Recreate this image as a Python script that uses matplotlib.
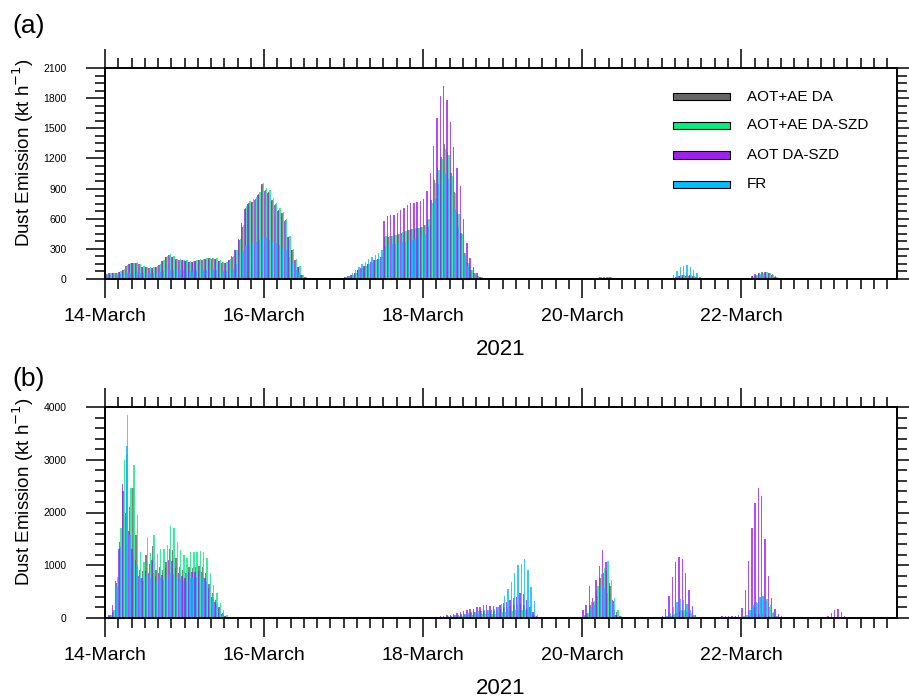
import numpy as np
import matplotlib
matplotlib.use("Agg")
import matplotlib.pyplot as plt
from matplotlib.patches import Rectangle
from matplotlib.ticker import MultipleLocator

plt.rcParams['font.family'] = ['Liberation Sans', 'DejaVu Sans']

# hourly dust emission, 14-March 00 UTC -> 23-March 22 UTC (kt/h)
n_hours = 239
day_ticks = [0, 48, 96, 144, 192]
day_labels = ['14-March', '16-March', '18-March', '20-March', '22-March']
names = ['AOT+AE DA', 'AOT+AE DA-SZD', 'AOT DA-SZD', 'FR']
colors = ['#666666', '#00F080', '#A020F0', '#00BFFF']

# each series: list of (first hour, values); hours not listed are 0
# ---- panel (a)
a_da = [
    (0, [50, 57, 57, 57, 73, 90, 130, 150, 157, 163,
         148, 123, 117, 113, 113, 123, 143, 183, 222, 238,
         222, 196, 190, 190, 180, 173, 173, 180, 190, 190,
         200, 206, 206, 200, 180, 166, 163, 190, 222, 282,
         388, 521, 703, 753, 770, 793, 846, 946, 886, 869,
         786, 743, 687, 654, 587, 421, 288, 189, 123, 40,
         15, 12, 10, 10, 10, 10, 10, 10, 10, 10,
         10, 12, 15, 25, 40, 57, 90, 113, 130, 150,
         173, 190, 203, 216, 421, 421, 428, 438, 448, 461,
         471, 488, 494, 501, 504, 514, 534, 587, 786, 985,
         1101, 1217, 1343, 1267, 1051, 869, 654, 454, 255, 156,
         90, 57, 30, 17]),
    (147, [8, 12, 15, 17, 17, 15, 12, 10, 6]),
    (171, [10, 20, 30, 40, 40, 35, 25, 15, 5]),
    (194, [10, 25, 40, 55, 65, 73, 62, 45, 25, 10]),
]
a_szd = [
    (0, [52, 58, 60, 60, 76, 95, 135, 155, 162, 168,
         152, 128, 120, 117, 117, 127, 148, 190, 230, 245,
         228, 200, 195, 193, 185, 178, 178, 185, 195, 195,
         205, 212, 212, 205, 185, 170, 168, 195, 230, 290,
         400, 540, 730, 780, 800, 820, 870, 960, 910, 890,
         810, 760, 705, 670, 600, 430, 295, 195, 128, 42,
         15, 12, 10, 10, 10, 10, 10, 10, 10, 10,
         10, 12, 15, 25, 40, 57, 88, 110, 128, 148,
         170, 188, 200, 214, 425, 425, 430, 440, 452, 465,
         475, 490, 498, 505, 508, 518, 540, 600, 760, 960,
         1080, 1190, 1290, 1230, 1030, 860, 650, 450, 260, 160,
         92, 58, 30, 15]),
    (147, [8, 12, 15, 16, 16, 15, 12, 10, 6]),
    (171, [12, 25, 35, 42, 44, 40, 30, 18, 6]),
    (194, [8, 22, 38, 52, 62, 68, 58, 42, 22, 8]),
]
a_aot = [
    (0, [48, 55, 55, 55, 70, 88, 128, 148, 155, 160,
         145, 120, 115, 110, 110, 120, 140, 180, 218, 235,
         218, 192, 186, 186, 176, 170, 170, 176, 186, 186,
         196, 202, 202, 196, 176, 162, 160, 190, 225, 290,
         400, 560, 700, 750, 765, 790, 840, 940, 880, 860,
         780, 735, 680, 650, 580, 420, 285, 185, 120, 38,
         14, 12, 10, 10, 10, 10, 10, 10, 10, 10,
         10, 12, 15, 25, 40, 57, 90, 113, 130, 150,
         173, 190, 203, 216, 573, 627, 633, 633, 653, 687,
         707, 736, 753, 760, 767, 776, 793, 879, 1058, 1323,
         1600, 1820, 1925, 1785, 1565, 1315, 1105, 925, 600, 355,
         206, 122, 60, 20]),
    (147, [6, 10, 12, 14, 14, 12, 10, 8, 5]),
    (171, [8, 15, 25, 32, 34, 30, 22, 12, 4]),
    (194, [12, 28, 45, 58, 68, 70, 60, 42, 22, 8]),
]
a_fr = [
    (0, [40, 40, 40, 40, 45, 55, 60, 62, 65, 65,
         62, 58, 55, 55, 55, 60, 68, 80, 88, 92,
         90, 88, 86, 86, 84, 82, 82, 85, 88, 88,
         90, 92, 92, 90, 86, 82, 80, 88, 100, 150,
         222, 280, 325, 340, 357, 370, 390, 405, 405, 390,
         373, 357, 340, 306, 290, 222, 156, 90, 57, 23,
         8, 8, 8, 8, 8, 8, 8, 8, 8, 8,
         8, 8, 10, 30, 57, 90, 123, 150, 173, 196,
         222, 240, 262, 288, 333, 340, 345, 350, 358, 365,
         372, 380, 388, 395, 405, 415, 450, 520, 650, 800,
         950, 1000, 1050, 1000, 850, 700, 520, 380, 230, 130,
         70, 40, 15]),
    (147, [10, 14, 17, 18, 18, 16, 13, 10, 6]),
    (171, [40, 83, 116, 133, 139, 123, 90, 56, 23]),
    (194, [5, 10, 18, 25, 30, 30, 25, 18, 10, 5]),
]

# ---- panel (b)
b_da = [
    (0, [10, 40, 120, 660, 1450, 2400, 3100, 2110, 2460, 1570,
         910, 890, 1190, 1020, 1370, 910, 970, 910, 1070, 1300,
         1290, 1130, 970, 910, 850, 970, 950, 970, 980, 970,
         850, 640, 470, 350, 200, 100, 40, 10]),
    (99, [10, 15, 20, 25, 30, 40, 50, 60, 70, 80,
          90, 100, 110, 120, 135, 140, 135, 130, 140, 160,
          180, 200, 210, 225, 240, 255, 265, 240, 180, 110,
          60, 20, 5]),
    (144, [40, 80, 250, 300, 520, 750, 850, 910, 600, 320, 120, 30]),
    (168, [5, 10, 20, 60, 100, 120, 125, 110, 80, 40, 10]),
    (184, [3, 3, 3, 3, 3, 3, 5, 8, 12, 20, 40, 60, 70, 80, 75, 60, 40, 20, 10, 5, 2]),
    (217, [3, 5, 8, 10, 10, 8, 5]),
]
b_szd = [
    (0, [20, 60, 160, 780, 1700, 3000, 3850, 2460, 2900, 1950,
         1260, 1070, 1540, 1240, 1580, 1220, 1300, 1300, 1380, 1740,
         1700, 1450, 1290, 1190, 1130, 1260, 1260, 1260, 1270, 1260,
         1140, 850, 630, 470, 280, 150, 57, 20]),
    (99, [5, 8, 12, 15, 20, 25, 30, 36, 42, 48,
          55, 60, 66, 72, 80, 84, 80, 78, 84, 96,
          108, 120, 126, 135, 145, 155, 160, 145, 110, 66,
          36, 12, 3]),
    (144, [60, 100, 300, 330, 600, 830, 950, 1080, 720, 380, 150, 40]),
    (168, [5, 15, 30, 80, 120, 150, 160, 140, 100, 50, 15]),
    (184, [3, 3, 3, 3, 3, 3, 5, 10, 30, 60, 100, 200, 280, 380, 400, 360, 250, 120, 40, 15, 5]),
    (217, [3, 5, 8, 10, 10, 8, 5]),
]
b_aot = [
    (0, [20, 60, 250, 700, 1300, 2540, 2000, 1650, 1300, 1100,
         800, 750, 900, 850, 1100, 800, 850, 820, 950, 1100,
         1080, 950, 850, 800, 760, 880, 880, 880, 900, 880,
         760, 560, 400, 300, 170, 80, 30, 10]),
    (99, [15, 20, 30, 40, 50, 57, 80, 100, 120, 140,
          155, 165, 180, 200, 215, 246, 240, 230, 220, 210,
          245, 278, 310, 341, 370, 392, 480, 453, 335, 203,
          120, 40, 10]),
    (144, [150, 246, 607, 380, 720, 986, 1290, 1070, 657, 341, 50, 10]),
    (168, [30, 164, 423, 771, 1056, 1163, 1112, 860, 531, 228, 57]),
    (184, [20, 25, 30, 35, 30, 35, 40, 60, 196, 531, 1087, 1700, 2187, 2460, 2313,
           1492, 803, 373, 164, 70, 38, 20]),
    (216, [5, 10, 30, 95, 154, 164, 108, 38, 10, 3]),
]
b_fr = [
    (0, [15, 50, 150, 600, 1350, 1700, 3260, 1570, 1200, 1000,
         750, 700, 800, 750, 850, 700, 750, 720, 780, 850,
         840, 780, 740, 700, 660, 760, 780, 780, 790, 770,
         690, 500, 380, 270, 160, 70, 25, 5]),
    (99, [10, 15, 20, 25, 30, 40, 50, 60, 70, 80,
          95, 105, 115, 125, 140, 150, 155, 160, 170, 200,
          265, 417, 544, 688, 850, 1005, 1024, 1112, 910, 594,
          322, 50, 10]),
    (144, [30, 60, 200, 250, 420, 590, 560, 480, 300, 150, 50, 10]),
    (168, [10, 40, 95, 215, 310, 354, 341, 265, 154, 60, 15]),
    (184, [5, 5, 5, 5, 5, 5, 8, 10, 20, 50, 154, 250, 310, 404, 417, 330, 200, 95, 30, 10, 5]),
    (217, [3, 5, 8, 10, 10, 8, 5]),
]


def fill(segments):
    arr = np.zeros(n_hours)
    for start, vals in segments:
        arr[start:start + len(vals)] = vals
    return arr


def draw(ax, series, ymax, ymajor, yminor):
    hours = np.arange(n_hours) + 0.5
    offsets = [-0.1, 0.3, -0.3, 0.1]  # gray, green, purple, blue
    for segs, col, off in zip(series, colors, offsets):
        ax.bar(hours + off, fill(segs), width=0.42, color=col, alpha=0.8,
               linewidth=0)

    ax.set_xlim(0, n_hours)
    ax.set_ylim(0, ymax)
    ax.set_xticks(day_ticks)
    ax.set_xticklabels(day_labels)
    ax.xaxis.set_minor_locator(MultipleLocator(4))
    ax.yaxis.set_major_locator(MultipleLocator(ymajor))
    ax.yaxis.set_minor_locator(MultipleLocator(yminor))
    ax.tick_params(which='both', direction='out', top=True, right=True, width=1.1)
    ax.tick_params(which='major', length=14)
    ax.tick_params(which='minor', length=7.3)
    ax.tick_params(axis='x', labelsize=14, pad=7)
    ax.tick_params(axis='y', labelsize=7.5, pad=13.5)
    for sp in ax.spines.values():
        sp.set_linewidth(1.4)
    ax.set_xlabel('2021', fontsize=16, labelpad=10)
    ax.set_ylabel('Dust Emission (kt h$^{-1}$)', fontsize=13.5)
    ax.yaxis.set_label_coords(-0.087, 0.6)


fig = plt.figure(figsize=(9.09, 6.98), dpi=100)
ax1 = fig.add_axes([105 / 909, 1 - 279 / 698, 792 / 909, 211 / 698])
ax2 = fig.add_axes([105 / 909, 1 - 618 / 698, 792 / 909, 211 / 698])

draw(ax1, [a_da, a_szd, a_aot, a_fr], 2100, 300, 75)
draw(ax2, [b_da, b_szd, b_aot, b_fr], 4000, 1000, 200)

fig.text(12 / 909, 1 - 26 / 698, '(a)', fontsize=19, va='center', ha='left')
fig.text(12 / 909, 1 - 379 / 698, '(b)', fontsize=19, va='center', ha='left')

# legend of panel (a)
row_y = [0.864, 0.728, 0.588, 0.449]
for name, col, ry in zip(names, colors, row_y):
    ax1.add_patch(Rectangle((0.717, ry - 0.017), 0.072, 0.034, transform=ax1.transAxes,
                            facecolor=col, edgecolor='black', linewidth=0.8,
                            clip_on=False))
    ax1.text(0.81, ry, name, transform=ax1.transAxes, fontsize=11, va='center',
             ha='left')

fig.savefig('out.png', dpi=100)
